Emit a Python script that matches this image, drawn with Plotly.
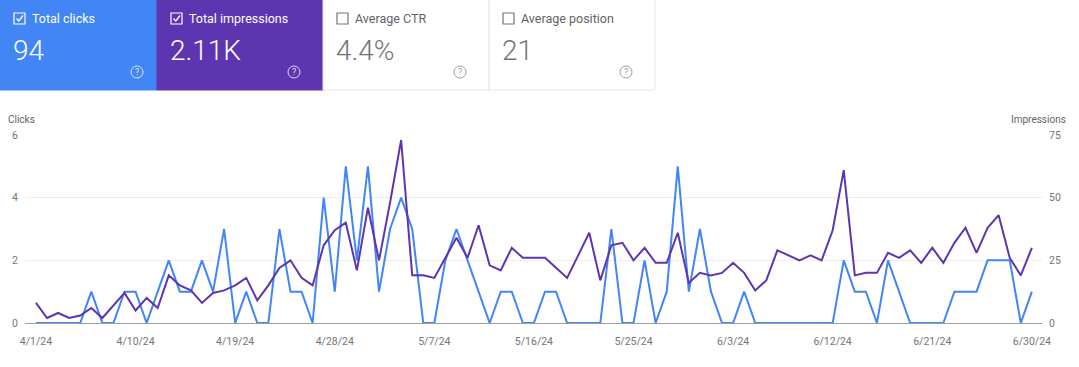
import pandas as pd
import plotly.graph_objects as go

dates = pd.date_range("2024-04-01", "2024-06-30", freq="D")

clicks = [0, 0, 0, 0, 0, 1, 0, 0, 1, 1,
          0, 1, 2, 1, 1, 2, 1, 3, 0, 1,
          0, 0, 3, 1, 1, 0, 4, 1, 5, 2,
          5, 1, 3, 4, 3, 0, 0, 2, 3, 2,
          1, 0, 1, 1, 0, 0, 1, 1, 0, 0,
          0, 0, 3, 0, 0, 2, 0, 1, 5, 1,
          3, 1, 0, 0, 1, 0, 0, 0, 0, 0,
          0, 0, 0, 2, 1, 1, 0, 2, 1, 0,
          0, 0, 0, 1, 1, 1, 2, 2, 2, 0,
          1]

impressions = [8, 2, 4, 2, 3, 6, 2, 7, 12, 5,
               10, 6, 19, 15, 13, 8, 12, 13, 15, 18,
               9, 15, 22, 25, 18, 15, 31, 37, 40, 21,
               46, 25, 48, 73, 19, 19, 18, 26, 34, 26,
               39, 23, 21, 30, 26, 26, 26, 22, 18, 27,
               36, 17, 31, 32, 25, 30, 24, 24, 36, 16,
               20, 19, 20, 24, 20, 13, 17, 29, 27, 25,
               27, 25, 37, 61, 19, 20, 20, 28, 26, 29,
               24, 30, 24, 32, 38, 28, 38, 43, 26, 19,
               30]

tick_dates = ["2024-04-01", "2024-04-10", "2024-04-19", "2024-04-28", "2024-05-07",
              "2024-05-16", "2024-05-25", "2024-06-03", "2024-06-12", "2024-06-21",
              "2024-06-30"]
tick_labels = ["4/1/24", "4/10/24", "4/19/24", "4/28/24", "5/7/24", "5/16/24",
               "5/25/24", "6/3/24", "6/12/24", "6/21/24", "6/30/24"]

card_titles = ["Total clicks", "Total impressions", "Average CTR", "Average position"]
card_values = ["94", "2.11K", "4.4%", "21"]
card_checked = [True, True, False, False]

W, H = 1079, 367
L, R, T, B = 25, 1042, 135, 323  # plot area in pixels

def px(x):
    return (x - L) / (R - L)

def py(y):
    return (B - y) / (B - T)

BLUE = "#4285F4"
PURPLE = "#5E35B1"

fig = go.Figure()
fig.add_trace(go.Scatter(x=dates, y=clicks, mode="lines", name="Clicks",
                         line=dict(color=BLUE, width=2), yaxis="y"))
fig.add_trace(go.Scatter(x=dates, y=impressions, mode="lines", name="Impressions",
                         line=dict(color=PURPLE, width=2), yaxis="y2"))

shapes = []
annotations = []

card_x = [0, 157, 323, 489, 655]
card_fill = [BLUE, PURPLE, "#ffffff", "#ffffff"]
for i in range(4):
    x0, x1 = card_x[i], card_x[i + 1]
    white = i < 2
    shapes.append(dict(type="rect", xref="paper", yref="paper",
                       x0=px(x0), x1=px(x1), y0=py(90), y1=py(-2),
                       fillcolor=card_fill[i],
                       line=dict(color=card_fill[i] if white else "#e6e6e6", width=1),
                       layer="below"))
    fg = "#ffffff" if white else "#757575"
    # checkbox
    cx0 = x0 + 14
    shapes.append(dict(type="rect", xref="paper", yref="paper",
                       x0=px(cx0), x1=px(cx0 + 11), y0=py(24), y1=py(13),
                       line=dict(color=fg, width=1.2), fillcolor="rgba(0,0,0,0)"))
    if card_checked[i]:
        path = "M {} {} L {} {} L {} {}".format(
            px(cx0 + 2.5), py(18.5), px(cx0 + 4.8), py(21), px(cx0 + 9), py(15.5))
        shapes.append(dict(type="path", xref="paper", yref="paper", path=path,
                           line=dict(color=fg, width=1.3)))
    annotations.append(dict(xref="paper", yref="paper", x=px(x0 + 30), y=py(18.5),
                            text=card_titles[i], showarrow=False, xanchor="left",
                            yanchor="middle",
                            font=dict(family="Roboto", size=12.5, color=fg if white else "#5f6368")))
    annotations.append(dict(xref="paper", yref="paper", x=px(x0 + 11), y=py(51),
                            text=card_values[i], showarrow=False, xanchor="left",
                            yanchor="middle",
                            font=dict(family="Roboto", size=28, color=fg, weight=300)))
    # help icon
    hx, hy = x0 + 137, 72
    shapes.append(dict(type="circle", xref="paper", yref="paper",
                       x0=px(hx - 6), x1=px(hx + 6), y0=py(hy + 6), y1=py(hy - 6),
                       line=dict(color="rgba(255,255,255,0.8)" if white else "#9e9e9e", width=1)))
    annotations.append(dict(xref="paper", yref="paper", x=px(hx), y=py(hy),
                            text="?", showarrow=False, xanchor="center", yanchor="middle",
                            font=dict(family="Roboto", size=9,
                                      color="rgba(255,255,255,0.8)" if white else "#9e9e9e")))

annotations.append(dict(xref="paper", yref="paper", x=px(6), y=py(119), text="Clicks",
                        showarrow=False, xanchor="left", yanchor="middle",
                        font=dict(family="Roboto", size=10, color="#5f6368")))
annotations.append(dict(xref="paper", yref="paper", x=px(1068), y=py(119), text="Impressions",
                        showarrow=False, xanchor="right", yanchor="middle",
                        font=dict(family="Roboto", size=10, color="#5f6368")))

fig.update_layout(
    width=W, height=H,
    margin=dict(l=L, r=W - R, t=T, b=H - B, pad=0),
    paper_bgcolor="#ffffff", plot_bgcolor="#ffffff",
    showlegend=False,
    shapes=shapes, annotations=annotations,
    font=dict(family="Roboto", color="#757575", size=10),
    xaxis=dict(type="date", range=["2024-03-31T00:10", "2024-06-30T22:00"],
               tickvals=tick_dates, ticktext=tick_labels, showgrid=False,
               zeroline=False, showline=False, ticks="", ticklabelstandoff=10,
               tickfont=dict(size=10.5, color="#757575")),
    yaxis=dict(range=[0, 6], tickvals=[0, 2, 4, 6], showgrid=True, gridcolor="#eeeeee",
               gridwidth=1, zeroline=True, zerolinecolor="#9e9e9e", zerolinewidth=1,
               showline=False, ticks="", ticklabelstandoff=6,
               tickfont=dict(size=10.5, color="#757575")),
    yaxis2=dict(range=[0, 75], tickvals=[0, 25, 50, 75], overlaying="y", side="right",
                showgrid=False, zeroline=False, showline=False, ticks="",
                ticklabelstandoff=6, tickfont=dict(size=10.5, color="#757575")),
)

fig.write_html("out.html", config={"displayModeBar": False},
               post_script="document.body.style.margin='0';document.body.style.overflow='hidden';")
